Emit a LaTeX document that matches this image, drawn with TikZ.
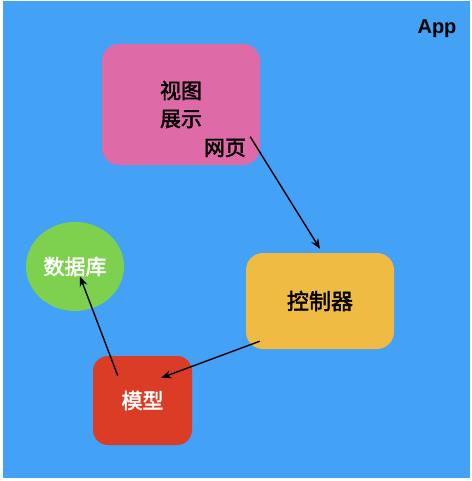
\documentclass[tikz,border=0pt]{standalone}
\usepackage{fontspec}
\usepackage{xcolor}
\usepackage{tikz}
\usetikzlibrary{shapes.geometric,arrows.meta}
\newfontfamily\cjk[AutoFakeBold=2]{Noto Sans CJK SC}
\newfontfamily\appfont{Liberation Sans}

\definecolor{appblue}{HTML}{43A1F6}
\definecolor{viewpink}{HTML}{DE6BA8}
\definecolor{ctrlyellow}{HTML}{F0BB42}
\definecolor{modelred}{HTML}{DA3C26}
\definecolor{dbgreen}{HTML}{7DD14F}

\tikzset{
  box/.style={rounded corners=17pt, inner sep=0pt, align=center, font=\cjk\bfseries\fontsize{21}{28}\selectfont},
  link/.style={black, line width=1.4pt, -{Stealth[length=10pt,width=8pt]}}
}

\begin{document}
\begin{tikzpicture}[x=1pt,y=-1pt]
  \useasboundingbox (0,0) rectangle (471,481);
  \fill[appblue] (3,1) rectangle (470,478);
  \node[font=\appfont\bfseries\fontsize{20}{20}\selectfont] (app) at (437,29) {App};

    %Boxes
    \node[box, fill=viewpink, minimum width=158pt, minimum height=121pt] (view) at (181,104.5) {视图\\展示};
    \node[box] (web) at (225,148) {网页};
    \node[box, fill=ctrlyellow, minimum width=148pt, minimum height=96pt, font=\cjk\bfseries\fontsize{22}{22}\selectfont] (ctrl) at (320,301) {控制器};
    \node[box, rounded corners=15pt, fill=modelred, text=white, minimum width=99pt, minimum height=89pt] (model) at (142.5,400.5) {模型};
    \node[ellipse, fill=dbgreen, text=white, inner sep=0pt, minimum width=98pt, minimum height=89pt, font=\cjk\bfseries\fontsize{21}{21}\selectfont] (db) at (75,266.5) {数据库};

    %Arrows
    \draw[link] ([xshift=4pt,yshift=2pt]web.north east) -- ([yshift=4pt]ctrl.north);
    \draw[link] ([xshift=14pt,yshift=8pt]ctrl.south west) -- ([xshift=-31pt,yshift=-22pt]model.north east);
    \draw[link] ([xshift=25pt,yshift=-20pt]model.north west) -- ([xshift=5pt,yshift=-10pt]db.center);

  \end{tikzpicture}
\end{document}
